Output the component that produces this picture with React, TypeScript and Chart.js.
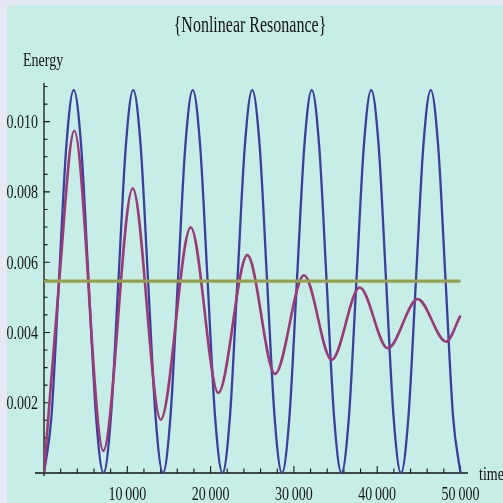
import React, { useEffect, useRef } from "react";
import { Chart, registerables } from "chart.js";

Chart.register(...registerables);

// ---- text ----
const chartTitle = "{Nonlinear Resonance}";
const yAxisLabel = "Energy";
const xAxisLabel = "time";

// ---- blue series (samples every 1/8 of a cycle) ----
const blueTimes = [
  0, 893, 1786, 2679, 3571, 4464, 5357, 6250,
  7143, 8036, 8929, 9821, 10714, 11607, 12500, 13393,
  14286, 15179, 16071, 16964, 17857, 18750, 19643, 20536,
  21429, 22321, 23214, 24107, 25000, 25893, 26786, 27679,
  28571, 29464, 30357, 31250, 32143, 33036, 33929, 34821,
  35714, 36607, 37500, 38393, 39286, 40179, 41071, 41964,
  42857, 43750, 44643, 45536, 46429, 47321, 48214, 49107,
  50000,
];
const blueEnergy = [
  0, 0.0016, 0.00545, 0.0093, 0.0109, 0.0093, 0.00545, 0.0016,
  0, 0.0016, 0.00545, 0.0093, 0.0109, 0.0093, 0.00545, 0.0016,
  0, 0.0016, 0.00545, 0.0093, 0.0109, 0.0093, 0.00545, 0.0016,
  0, 0.0016, 0.00545, 0.0093, 0.0109, 0.0093, 0.00545, 0.0016,
  0, 0.0016, 0.00545, 0.0093, 0.0109, 0.0093, 0.00545, 0.0016,
  0, 0.0016, 0.00545, 0.0093, 0.0109, 0.0093, 0.00545, 0.0016,
  0, 0.0016, 0.00545, 0.0093, 0.0109, 0.0093, 0.00545, 0.0016,
  0,
];

// ---- red series (peaks / troughs) ----
const redTimes = [
  0, 1800, 3637, 7119, 10648, 14010, 17611, 20925, 24406,
  27732, 31213, 34538, 37900, 41262, 44863, 48260, 50000,
];
const redEnergy = [
  0, 0.0054, 0.00974, 0.00063, 0.0081, 0.00152, 0.00699, 0.00228, 0.0062,
  0.00282, 0.00563, 0.00322, 0.00528, 0.00355, 0.00495, 0.00374, 0.00448,
];

// ---- green series ----
const greenTimes = [0, 50000];
const greenEnergy = [0.00546, 0.00546];

// ---- axes ----
const xMin = 0;
const xMax = 50900;
const yMin = 0;
const yMax = 0.0111;
const xTickValues = [10000, 20000, 30000, 40000, 50000];
const xTickLabels = ["10\u2009000", "20\u2009000", "30\u2009000", "40\u2009000", "50\u2009000"];
const yTickValues = [0.002, 0.004, 0.006, 0.008, 0.01];
const yTickLabels = ["0.002", "0.004", "0.006", "0.008", "0.010"];
const xMinorStep = 2000;
const yMinorStep = 0.0005;

const OUTER_BG = "#e7e8f4";
const PANEL_BG = "#c7eee6";
const BLUE = "#3b3e9c";
const RED = "#9a3a78";
const GREEN = "#99a04a";
const INK = "#151515";
const SERIF = "'Liberation Serif', 'DejaVu Serif', serif";

function zip(xs: number[], ys: number[]) {
  return xs.map((x, i) => ({ x, y: ys[i] }));
}

function stretchedText(
  ctx: CanvasRenderingContext2D,
  text: string,
  x: number,
  y: number,
  align: CanvasTextAlign,
  size: number,
  sy: number
) {
  ctx.save();
  ctx.translate(x, y);
  ctx.scale(1, sy);
  ctx.font = `${size}px ${SERIF}`;
  ctx.textAlign = align;
  ctx.textBaseline = "alphabetic";
  ctx.fillStyle = INK;
  ctx.fillText(text, 0, 0);
  ctx.restore();
}

const decor = {
  id: "decor",
  beforeDraw(chart: any) {
    const ctx = chart.ctx as CanvasRenderingContext2D;
    ctx.save();
    ctx.fillStyle = OUTER_BG;
    ctx.fillRect(0, 0, chart.width, chart.height);
    ctx.fillStyle = PANEL_BG;
    ctx.fillRect(7, 5, chart.width - 7, chart.height - 5);
    ctx.restore();
  },
  beforeDatasetsDraw(chart: any) {
    const ctx = chart.ctx as CanvasRenderingContext2D;
    const xs = chart.scales.x;
    const ys = chart.scales.y;
    const area = chart.chartArea;
    const x0 = xs.getPixelForValue(0);
    const y0 = ys.getPixelForValue(0);
    ctx.save();
    ctx.strokeStyle = INK;
    ctx.lineWidth = 1.3;
    ctx.beginPath();
    ctx.moveTo(x0 - 9, y0);
    ctx.lineTo(area.right, y0);
    ctx.moveTo(x0, area.top);
    ctx.lineTo(x0, y0 + 3);
    ctx.stroke();
    ctx.lineWidth = 1.1;
    ctx.beginPath();
    // x ticks (inward)
    for (let v = xMinorStep; v <= xMax; v += xMinorStep) {
      const px = xs.getPixelForValue(v);
      const major = xTickValues.indexOf(v) >= 0;
      ctx.moveTo(px, y0);
      ctx.lineTo(px, y0 - (major ? 7 : 4.5));
    }
    // y ticks (inward)
    for (let k = 1; k * yMinorStep <= yMax + 1e-9; k++) {
      const v = k * yMinorStep;
      const py = ys.getPixelForValue(v);
      const major = yTickValues.some((t) => Math.abs(t - v) < 1e-9);
      ctx.moveTo(x0, py);
      ctx.lineTo(x0 + (major ? 6 : 3.5), py);
    }
    ctx.stroke();
    ctx.restore();
  },
  afterDraw(chart: any) {
    const ctx = chart.ctx as CanvasRenderingContext2D;
    const xs = chart.scales.x;
    const ys = chart.scales.y;
    const y0 = ys.getPixelForValue(0);
    const x0 = xs.getPixelForValue(0);
    xTickValues.forEach((v, i) => {
      stretchedText(ctx, xTickLabels[i], xs.getPixelForValue(v), y0 + 27, "center", 14, 1.35);
    });
    yTickValues.forEach((v, i) => {
      stretchedText(ctx, yTickLabels[i], x0 - 6, ys.getPixelForValue(v) + 6.4, "right", 14, 1.35);
    });
    stretchedText(ctx, chartTitle, 250, 32, "center", 16, 1.5);
    stretchedText(ctx, yAxisLabel, 23, 66, "left", 14, 1.35);
    stretchedText(ctx, xAxisLabel, 479, 480, "left", 14, 1.35);
  },
};

export default function App() {
  const ref = useRef<HTMLCanvasElement | null>(null);

  useEffect(() => {
    document.body.style.margin = "0";
    document.body.style.overflow = "hidden";
    const canvas = ref.current;
    if (!canvas) return;
    const chart = new Chart(canvas, {
      type: "line",
      data: {
        datasets: [
          {
            data: zip(greenTimes, greenEnergy),
            borderColor: GREEN,
            borderWidth: 3.2,
            pointRadius: 0,
            order: 1,
          },
          {
            data: zip(redTimes, redEnergy),
            borderColor: RED,
            borderWidth: 2.6,
            pointRadius: 0,
            cubicInterpolationMode: "monotone",
            order: 2,
          },
          {
            data: zip(blueTimes, blueEnergy),
            borderColor: BLUE,
            borderWidth: 2.3,
            pointRadius: 0,
            cubicInterpolationMode: "monotone",
            order: 3,
          },
        ],
      },
      options: {
        animation: false,
        responsive: false,
        events: [],
        layout: { padding: { top: 83, right: 35, left: 0, bottom: 0 } },
        plugins: {
          legend: { display: false },
          title: { display: false },
          tooltip: { enabled: false },
        },
        scales: {
          x: {
            type: "linear",
            min: xMin,
            max: xMax,
            grid: { display: false },
            border: { display: false },
            ticks: { display: false },
            afterFit: (s: any) => {
              s.height = 30;
            },
          },
          y: {
            type: "linear",
            min: yMin,
            max: yMax,
            grid: { display: false },
            border: { display: false },
            ticks: { display: false },
            afterFit: (s: any) => {
              s.width = 44;
            },
          },
        },
      },
      plugins: [decor],
    } as any);
    return () => chart.destroy();
  }, []);

  return (
    <canvas
      ref={ref}
      width={503}
      height={503}
      style={{ display: "block", width: 503, height: 503 }}
    />
  );
}
